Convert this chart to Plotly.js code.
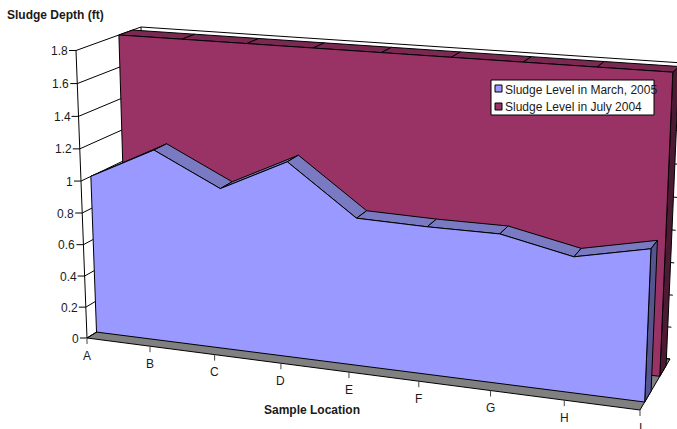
<!DOCTYPE html>
<html><head><meta charset="utf-8">
<script src="https://cdn.plot.ly/plotly-3.0.1.min.js"></script>
<style>html,body{margin:0;padding:0;background:#fff;overflow:hidden}</style>
</head><body><div id="chart" style="width:677px;height:429px"></div>
<script>
const locations = ['A','B','C','D','E','F','G','H','I'];
const march2005 = [1.0,1.2,1.0,1.2,0.9,0.89,0.89,0.8,0.89];
const july2004 = [1.8,1.8,1.8,1.8,1.8,1.8,1.8,1.8,1.8];
const yTicks = [0,0.2,0.4,0.6,0.8,1,1.2,1.4,1.6,1.8];
const yTickLabels = ['0','0.2','0.4','0.6','0.8','1','1.2','1.4','1.6','1.8'];
const seriesNames = ['Sludge Level in March, 2005','Sludge Level in July 2004'];

// view of the 3-D box: corners [location, height, depth] on the page
const C = {
  flb:[87,338], flt:[76,50.5], blb:[148,300], blt:[141,27],
  frb:[640,410], frt:[653,90], brb:[670,359], brt:[683,63]
};
const vMax = 1.8, nCat = locations.length-1;
const warp = (s,k)=> s/(s+k*(1-s));
function P(i,v,d){
  const a = warp(i/nCat,1.111), b = warp(v/vMax,1.04);
  const mix=(p,q,t)=>[p[0]+(q[0]-p[0])*t,p[1]+(q[1]-p[1])*t];
  const fl=mix(C.flb,C.flt,b), fr=mix(C.frb,C.frt,b), bl=mix(C.blb,C.blt,b), br=mix(C.brb,C.brt,b);
  return mix(mix(fl,fr,a),mix(bl,br,a),d);
}
const D = {blueF:0.156, blueB:0.37, purF:0.66, purB:0.87};
const col = {blue:'#9999ff', blueTop:'#7a7ac2', blueSide:'#55558f', pur:'#993366', purTop:'#7a2952', purSide:'#4d1a33', floor:'#808080'};

const traces = [];
function face(pts,fill,name){
  const c = pts.concat([pts[0]]);
  traces.push({type:'scatter',mode:'lines',x:c.map(p=>p[0]),y:c.map(p=>p[1]),fill:'toself',fillcolor:fill,
    line:{color:'#000',width:1},hoverinfo:'skip',showlegend:false,name:name||''});
}
function line(pts,color,width){
  traces.push({type:'scatter',mode:'lines',x:pts.map(p=>p[0]),y:pts.map(p=>p[1]),
    line:{color:color||'#000',width:width||1},hoverinfo:'skip',showlegend:false});
}
// floor
face([P(0,0,0),P(nCat,0,0),P(nCat,0,1),P(0,0,1)],col.floor);
// walls and gridlines
yTicks.forEach(v=>{ line([P(0,v,0),P(0,v,1),P(nCat,v,1)]); });
line([P(0,0,0),P(0,vMax,0)]);
line([P(0,0,1),P(0,vMax,1)]);
// July 2004 (rear series)
face([P(nCat,0,D.purF),P(nCat,0,D.purB),P(nCat,july2004[nCat],D.purB),P(nCat,july2004[nCat],D.purF)],col.purSide);
for(let i=0;i<nCat;i++) face([P(i,july2004[i],D.purF),P(i+1,july2004[i+1],D.purF),P(i+1,july2004[i+1],D.purB),P(i,july2004[i],D.purB)],col.purTop);
face([P(0,0,D.purF)].concat(july2004.map((v,i)=>P(i,v,D.purF))).concat([P(nCat,0,D.purF)]),col.pur,seriesNames[1]);
// March 2005 (front series)
for(let i=0;i<nCat;i++) face([P(i,march2005[i],D.blueF),P(i+1,march2005[i+1],D.blueF),P(i+1,march2005[i+1],D.blueB),P(i,march2005[i],D.blueB)],col.blueTop);
face([P(nCat,0,D.blueF),P(nCat,0,D.blueB),P(nCat,march2005[nCat],D.blueB),P(nCat,march2005[nCat],D.blueF)],col.blueSide);
face([P(0,0,D.blueF)].concat(march2005.map((v,i)=>P(i,v,D.blueF))).concat([P(nCat,0,D.blueF)]),col.blue,seriesNames[0]);

const ann = [];
const txt = {family:'Liberation Sans, Arial, sans-serif',size:12,color:'#1a1a1a'};
function label(x,y,text,anchor,font){
  ann.push({xref:'x',yref:'y',x,y,text,showarrow:false,xanchor:anchor||'center',yanchor:'middle',font:font||txt,borderpad:0,borderwidth:0});
}
yTicks.forEach((v,k)=>{
  const p=P(0,v,0);
  line([[p[0]-7,p[1]],p]);
  label(p[0]-8,p[1]+0.5,yTickLabels[k],'right');
});
locations.forEach((c,i)=>{
  const p=P(i,0,0);
  line([p,[p[0],p[1]+6]],'#444');
  label(p[0],p[1]+17.5,c,'center');
});
const bold = {family:'Liberation Sans, Arial, sans-serif',size:12,color:'#1a1a1a'};
label(7,15,'<b>Sludge Depth (ft)</b>','left',bold);
label(312,410,'<b>Sample Location</b>','center',bold);

// legend box
const shapes = [
  {type:'rect',xref:'x',yref:'y',x0:491,x1:654,y0:80,y1:115,fillcolor:'#fff',line:{color:'#000',width:1},layer:'above'},
  {type:'rect',xref:'x',yref:'y',x0:495,x1:502,y0:85,y1:92,fillcolor:col.blue,line:{color:'#000',width:1},layer:'above'},
  {type:'rect',xref:'x',yref:'y',x0:495,x1:502,y0:103,y1:110,fillcolor:col.pur,line:{color:'#000',width:1},layer:'above'}
];
label(505,89.5,seriesNames[0],'left',{...txt,size:12});
label(505,107,seriesNames[1],'left',{...txt,size:12});

Plotly.newPlot('chart',traces,{
  width:677,height:429,margin:{l:0,r:0,t:0,b:0},
  paper_bgcolor:'#fff',plot_bgcolor:'#fff',showlegend:false,
  xaxis:{range:[0,677],visible:false,fixedrange:true},
  yaxis:{range:[429,0],visible:false,fixedrange:true},
  annotations:ann,shapes:shapes
},{displayModeBar:false,staticPlot:true});
</script></body></html>
